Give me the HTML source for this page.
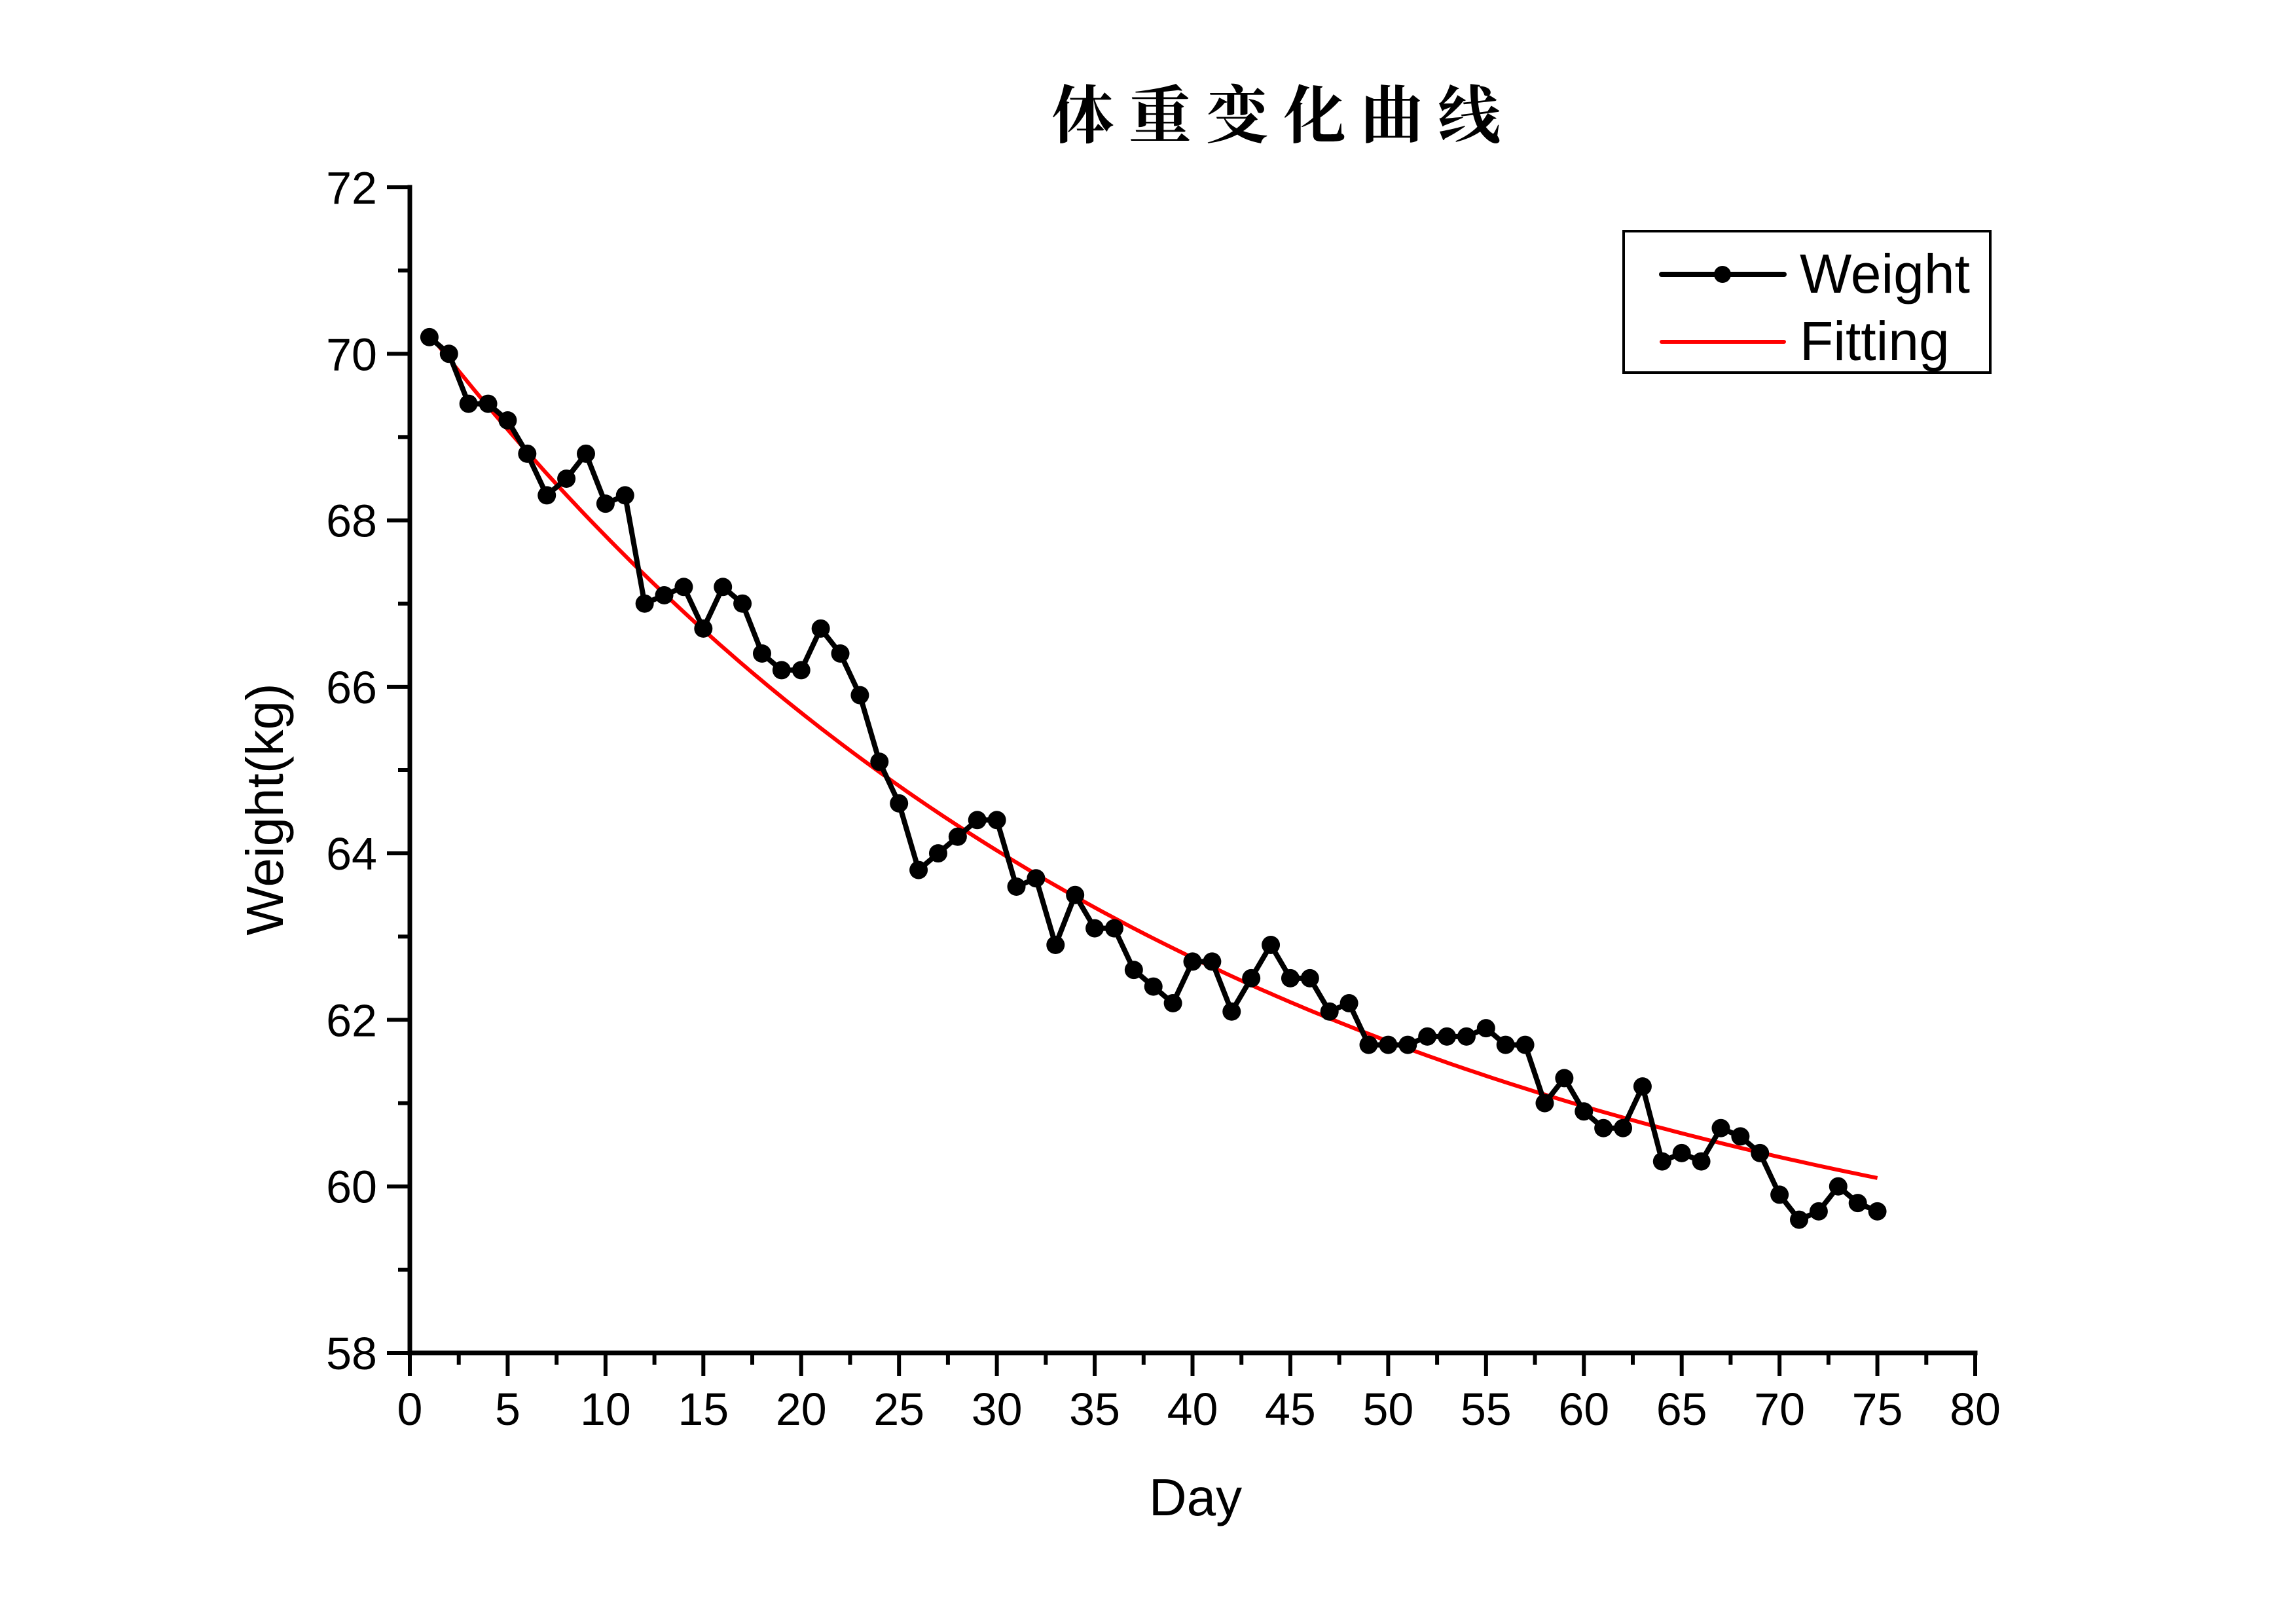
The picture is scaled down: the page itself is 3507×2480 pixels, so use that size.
<!DOCTYPE html>
<html><head><meta charset="utf-8"><style>
html,body{margin:0;padding:0;background:#fff;}
svg{display:block;}
text{font-family:"Liberation Sans","Noto Sans CJK SC",sans-serif;fill:#000;}
</style></head><body>
<svg id="chart" width="3507" height="2480" viewBox="0 0 3507 2480" xmlns="http://www.w3.org/2000/svg">
<rect width="3507" height="2480" fill="#fff"/>
<text x="1960" y="210" text-anchor="middle" font-size="96" font-weight="bold" letter-spacing="22" style="font-family:'Noto Serif CJK SC','Noto Sans CJK SC',serif">体重变化曲线</text>
<g id="axes"></g>
<g id="fit"></g>
<g id="series"></g>
<text x="0" y="0" transform="translate(432,1236) rotate(-90)" text-anchor="middle" font-size="80">Weight(kg)</text>
<text x="1826" y="2314" text-anchor="middle" font-size="80">Day</text>
<g>
<rect x="2480" y="353" width="560" height="216" fill="#fff" stroke="#000" stroke-width="4"/>
<line x1="2538" y1="419" x2="2725" y2="419" stroke="#000" stroke-width="8" stroke-linecap="round"/>
<circle cx="2631" cy="419" r="13" fill="#000"/>
<text x="2749" y="447" font-size="84">Weight</text>
<line x1="2538" y1="522" x2="2725" y2="522" stroke="#f00" stroke-width="6" stroke-linecap="round"/>
<text x="2749" y="550" font-size="84">Fitting</text>
</g>
</svg>
<script>
const days=[1,2,3,4,5,6,7,8,9,10,11,12,13,14,15,16,17,18,19,20,21,22,23,24,25,26,27,28,29,30,31,32,33,34,35,36,37,38,39,40,41,42,43,44,45,46,47,48,49,50,51,52,53,54,55,56,57,58,59,60,61,62,63,64,65,66,67,68,69,70,71,72,73,74,75];
const weights=[70.2,70.0,69.4,69.4,69.2,68.8,68.3,68.5,68.8,68.2,68.3,67.0,67.1,67.2,66.7,67.2,67.0,66.4,66.2,66.2,66.7,66.4,65.9,65.1,64.6,63.8,64.0,64.2,64.4,64.4,63.6,63.7,62.9,63.5,63.1,63.1,62.6,62.4,62.2,62.7,62.7,62.1,62.5,62.9,62.5,62.5,62.1,62.2,61.7,61.7,61.7,61.8,61.8,61.8,61.9,61.7,61.7,61.0,61.3,60.9,60.7,60.7,61.2,60.3,60.4,60.3,60.7,60.6,60.4,59.9,59.6,59.7,60.0,59.8,59.7];
const fitParams=[58.21,12.33,40];   // y = a + b*exp(-x/t)
const fitRange=[1,75];
const xTicks=[0,5,10,15,20,25,30,35,40,45,50,55,60,65,70,75,80];
const yTicks=[58,60,62,64,66,68,70,72];

const NS='http://www.w3.org/2000/svg';
const X0=626,X1=3017,Y0=2066,Y1=286;
const xs=v=>X0+(v-0)/(80-0)*(X1-X0);
const ys=v=>Y0-(v-58)/(72-58)*(Y0-Y1);
function mk(tag,attrs,parent){const e=document.createElementNS(NS,tag);for(const k in attrs)e.setAttribute(k,attrs[k]);parent.appendChild(e);return e;}
const axes=document.getElementById('axes');
let l=mk('line',{x1:X0,y1:Y0,x2:X1,y2:Y0,stroke:'#000','stroke-width':7,'stroke-linecap':'square'},axes);


l=mk('line',{x1:X0,y1:Y0,x2:X0,y2:Y1,stroke:'#000','stroke-width':7,'stroke-linecap':'square'},axes);


xTicks.forEach((v,i)=>{
  const x=xs(v);
  const t=mk('line',{x1:x,y1:Y0,x2:x,y2:Y0+35,stroke:'#000','stroke-width':6},axes);
  
  
  if(i<xTicks.length-1){const xm=xs(v+2.5);
    const m=mk('line',{x1:xm,y1:Y0,x2:xm,y2:Y0+18,stroke:'#000','stroke-width':6},axes);
    
    }
  const tx=mk('text',{x:x,y:Y0+110,'text-anchor':'middle','font-size':70},axes);tx.textContent=v;
  
  
});
yTicks.forEach((v,i)=>{
  const y=ys(v);
  const t=mk('line',{x1:X0-35,y1:y,x2:X0,y2:y,stroke:'#000','stroke-width':6},axes);
  
  
  if(i<yTicks.length-1){const ym=ys(v+1);
    const m=mk('line',{x1:X0-18,y1:ym,x2:X0,y2:ym,stroke:'#000','stroke-width':6},axes);
    
    }
  const tx=mk('text',{x:X0-50,y:y+25,'text-anchor':'end','font-size':70},axes);tx.textContent=v;
  
  
});
const fitG=document.getElementById('fit');
let d='';
for(let k=0;k<=200;k++){const xv=fitRange[0]+(fitRange[1]-fitRange[0])*k/200;
  const yv=fitParams[0]+fitParams[1]*Math.exp(-xv/fitParams[2]);
  d+=(k?'L':'M')+xs(xv).toFixed(1)+','+ys(yv).toFixed(1);}
const fp=mk('path',{d:d,fill:'none',stroke:'#f00','stroke-width':6},fitG);


const sg=document.getElementById('series');
const pts=days.map((dv,i)=>xs(dv).toFixed(1)+','+ys(weights[i]).toFixed(1)).join(' ');
const pl=mk('polyline',{points:pts,fill:'none',stroke:'#000','stroke-width':8,'stroke-linejoin':'round'},sg);


days.forEach((dv,i)=>{
  const c=mk('circle',{cx:xs(dv),cy:ys(weights[i]),r:14,fill:'#000'},sg);
  
  
});
</script>
</body></html>
